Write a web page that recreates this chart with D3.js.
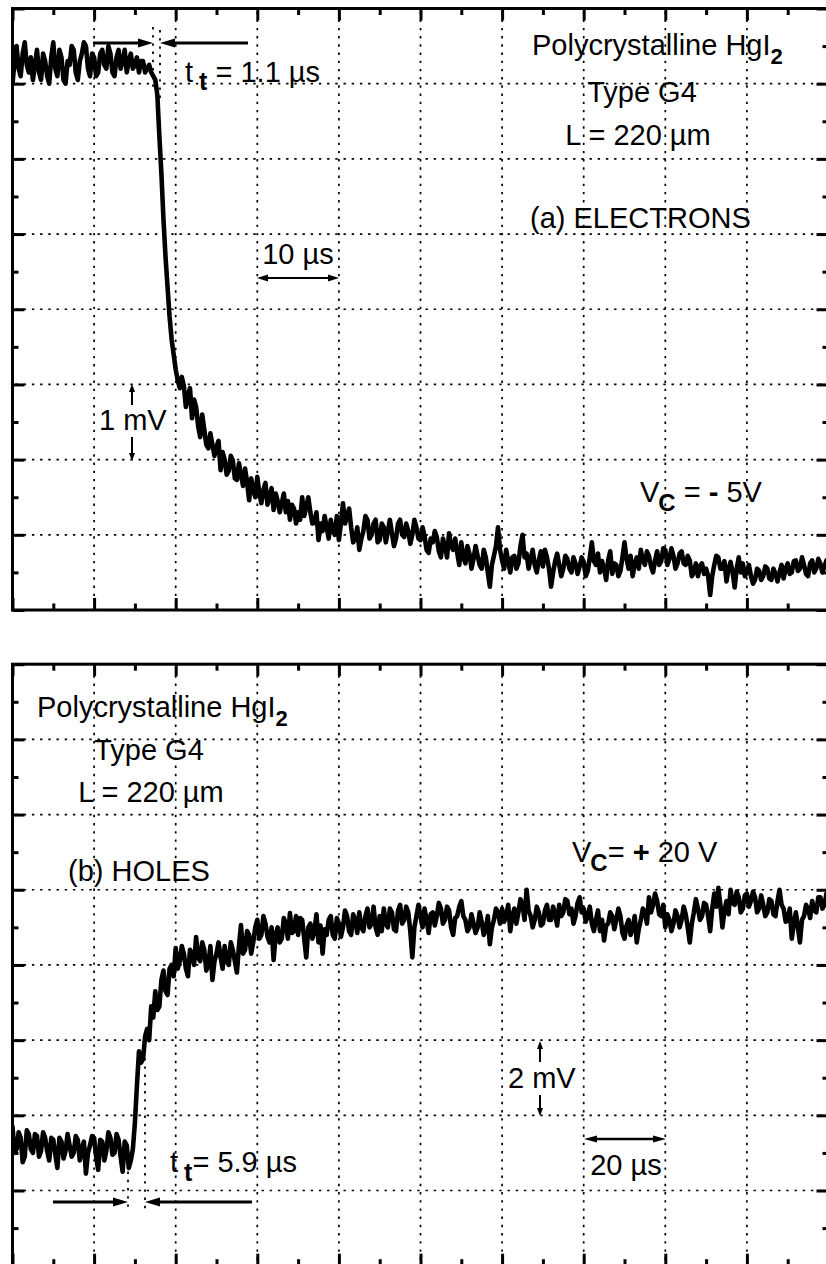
<!DOCTYPE html>
<html><head><meta charset="utf-8">
<script src="https://cdn.jsdelivr.net/npm/d3@7"></script>
<style>
html,body{margin:0;padding:0;background:#fff;}
svg{display:block;}
text{font-family:"Liberation Sans",Arial,Helvetica,sans-serif;fill:#000;}
</style></head><body>
<svg id="chart" width="826" height="1264"></svg>
<script>
// ---------------- DATA ----------------
// (a) electrons: oscilloscope samples, one every 0.25 µs, in mV
const electronStepUs = 0.25;
const electronSignal = [
 7.00,7.30,7.50,7.20,7.10,7.40,7.55,7.25,7.15,7.35,7.05,7.25,7.45,7.15,7.05,7.40,7.30,7.10,7.00,7.35,
 7.55,7.20,7.10,7.45,7.35,7.05,7.00,7.30,7.25,7.50,7.45,7.15,7.05,7.30,7.40,7.55,7.50,7.20,7.10,7.40,
 7.35,7.10,7.15,7.40,7.45,7.25,7.20,7.50,7.40,7.15,7.10,7.35,7.45,7.20,7.30,7.45,7.15,7.30,7.40,7.20,
 7.25,7.35,7.15,7.30,7.30,7.15,7.20,7.25,7.15,7.10,7.05,6.85,6.30,5.80,5.20,4.70,4.30,3.90,3.60,3.40,
 3.20,3.05,2.95,3.10,2.98,2.70,2.85,2.95,2.55,2.80,2.70,2.45,2.30,2.60,2.40,2.20,2.15,2.35,2.20,2.05,
 2.17,2.25,1.86,2.10,2.00,1.80,1.85,2.05,1.99,1.75,1.73,1.95,1.80,1.65,1.88,1.70,1.46,1.75,1.60,1.50,
 1.77,1.55,1.42,1.60,1.69,1.40,1.50,1.62,1.33,1.55,1.45,1.30,1.42,1.55,1.30,1.45,1.20,1.40,1.35,1.15,
 1.30,1.20,1.50,1.25,1.37,1.50,1.30,1.15,1.16,1.30,0.93,1.15,1.05,1.25,1.10,0.95,1.20,1.05,1.00,1.25,
 0.93,1.15,1.42,1.15,1.25,1.35,1.10,0.90,0.95,1.10,0.80,0.95,1.05,1.25,1.20,0.95,1.00,1.15,1.20,0.90,
 0.93,1.15,1.10,0.90,1.05,1.20,1.02,0.85,0.95,1.15,1.20,1.00,0.97,1.15,1.05,0.88,1.00,1.20,1.10,0.95,
 0.93,1.10,0.98,0.80,0.76,0.95,0.90,1.05,0.97,0.78,0.70,0.95,0.85,0.70,1.02,0.85,0.80,0.95,0.76,0.60,
 0.90,0.70,0.62,0.85,0.75,0.55,0.68,0.85,0.72,0.60,0.55,0.80,0.70,0.50,0.31,0.60,0.72,0.85,1.10,0.80,
 0.66,0.55,0.80,0.65,0.50,0.70,0.72,0.55,0.62,0.85,1.00,0.70,0.75,0.55,0.68,0.80,0.60,0.50,0.66,0.78,
 0.58,0.80,0.70,0.55,0.31,0.50,0.65,0.75,0.60,0.45,0.55,0.72,0.68,0.55,0.50,0.70,0.62,0.48,0.58,0.70,
 0.64,0.45,0.52,0.70,0.90,0.65,0.60,0.75,0.50,0.65,0.55,0.40,0.66,0.78,0.48,0.62,0.60,0.45,0.52,0.70,
 0.90,0.68,0.55,0.72,0.45,0.62,0.70,0.55,0.80,0.66,0.60,0.78,0.72,0.58,0.50,0.66,0.78,0.60,0.65,0.82,
 0.80,0.60,0.68,0.82,0.72,0.55,0.62,0.75,0.78,0.62,0.60,0.72,0.66,0.45,0.50,0.62,0.45,0.58,0.62,0.48,
 0.55,0.45,0.20,0.45,0.60,0.72,0.70,0.55,0.55,0.65,0.38,0.55,0.64,0.50,0.30,0.55,0.70,0.50,0.62,0.45,
 0.50,0.60,0.45,0.35,0.40,0.55,0.52,0.40,0.45,0.58,0.55,0.42,0.40,0.55,0.48,0.38,0.50,0.60,0.42,0.55,
 0.62,0.48,0.50,0.65,0.66,0.52,0.55,0.70,0.60,0.48,0.45,0.62,0.66,0.50,0.55,0.68,0.62,0.50,0.58,0.66,
 0.60
];
// (b) holes: oscilloscope samples, one every 0.5 µs, in mV
const holeStepUs = 0.5;
const holeSignal = [
 3.70,3.00,3.10,3.55,3.40,2.75,2.90,3.60,3.50,3.10,3.00,3.50,3.45,2.90,3.05,3.55,3.40,3.05,2.80,3.40,
 3.35,2.95,2.60,3.40,3.30,2.85,3.05,3.50,3.20,2.90,3.00,3.45,3.35,2.80,3.10,3.30,2.45,3.00,3.20,3.45,
 3.40,2.90,2.55,3.35,3.30,2.80,3.05,3.55,3.40,2.95,3.00,3.50,3.35,2.90,2.50,3.30,3.20,2.60,2.80,3.10,
 3.80,4.80,5.70,5.40,5.50,6.10,6.30,6.00,6.90,6.60,7.30,6.80,6.90,7.60,7.85,7.30,7.20,7.90,8.00,7.70,
 8.45,7.90,8.10,8.50,8.30,7.90,7.70,8.40,8.30,8.00,8.74,8.20,8.10,8.60,8.40,7.85,8.00,8.50,7.60,8.10,
 8.30,8.60,8.20,7.90,8.50,8.10,8.00,8.60,8.40,8.10,7.80,8.50,9.06,8.30,8.40,8.90,8.80,8.30,8.60,9.00,
 9.20,8.70,8.80,9.30,9.10,8.75,8.60,9.00,8.13,8.80,9.00,8.60,8.70,9.25,9.10,8.70,9.38,8.85,8.90,9.30,
 8.80,9.25,9.20,8.70,8.20,9.00,9.10,8.70,8.90,9.35,8.60,9.05,8.30,8.95,8.80,9.20,9.30,8.80,8.70,9.25,
 9.10,8.75,9.00,9.45,9.30,8.90,8.80,9.35,9.20,8.85,9.40,9.00,8.90,9.30,9.50,9.00,9.10,9.55,9.00,8.80,
 9.30,8.90,9.50,9.10,9.00,9.50,9.40,8.95,8.90,9.45,9.60,9.10,9.20,9.55,9.40,8.90,8.20,9.00,9.30,9.60,
 9.30,9.00,9.50,9.20,8.85,9.35,9.40,9.05,9.30,9.65,9.50,9.10,9.20,9.55,9.45,9.00,8.80,9.25,9.30,9.55,
 9.70,9.30,9.20,8.90,9.00,9.35,9.10,8.85,9.00,9.40,9.15,8.80,8.95,9.30,8.55,9.00,9.20,9.50,9.40,9.10,
 9.50,9.15,9.30,9.60,8.90,9.30,9.50,9.10,9.40,9.75,9.60,9.20,10.00,9.45,9.30,9.00,9.20,9.55,9.40,9.05,
 9.10,9.45,9.60,9.20,9.20,9.55,9.35,9.05,9.60,9.30,9.40,9.75,9.70,9.35,9.50,9.10,9.30,9.65,9.80,9.40,
 9.50,9.15,9.30,9.55,9.10,8.90,9.20,9.45,8.90,9.20,8.65,9.05,9.10,9.40,9.30,8.95,9.20,9.50,9.30,8.85,
 8.70,9.05,9.20,8.80,9.00,9.30,8.60,8.95,9.20,9.50,9.40,9.10,9.80,9.40,9.60,9.90,9.70,9.35,9.30,9.60,
 9.00,9.35,9.20,8.90,9.10,9.45,9.30,9.00,9.20,9.55,9.35,9.00,8.60,9.10,9.40,9.75,9.50,9.20,9.30,9.65,
 9.60,9.30,8.90,9.50,9.90,9.55,10.05,9.60,9.00,9.45,9.70,9.35,10.00,9.65,9.60,9.95,9.80,9.40,9.50,9.85,
 9.90,9.55,9.70,9.95,9.80,9.40,9.50,9.85,9.60,9.30,9.40,9.75,9.70,9.35,9.30,9.70,10.00,9.60,9.50,9.15,
 9.20,9.50,8.70,9.10,9.40,9.00,8.60,9.20,9.30,9.60,9.50,9.25,9.70,9.45,9.40,9.80,9.80,9.50,9.60,9.90,
 9.70
];
// axis tick values (no tick labels on this oscilloscope chart)
const electronTimeMajor = [0,10,20,30,40,50,60,70,80,90,100];
const electronTimeMinor = [5,15,25,35,45,55,65,75,85,95];
const electronVoltMajor = [0,1,2,3,4,5,6,7,8];
const electronVoltMinor = [0.5,1.5,2.5,3.5,4.5,5.5,6.5,7.5];
const holeTimeMajor = [0,20,40,60,80,100,120,140,160,180,200];
const holeTimeMinor = [10,30,50,70,90,110,130,150,170,190];
const holeVoltMajor = [0,2,4,6,8,10,12,14,16];
const holeVoltMinor = [1,3,5,7,9,11,13,15];

// ---------------- LAYOUT ----------------
const svg = d3.select("#chart");
svg.append("rect").attr("width",826).attr("height",1264).attr("fill","#fff");
const L = 12.5, R = 828.5;
const panels = [
  {id:"a", top:8.5, bottom:610, tMax:100, vMax:8, step:electronStepUs, sig:electronSignal,
   xMaj:electronTimeMajor, xMin:electronTimeMinor, yMaj:electronVoltMajor, yMin:electronVoltMinor},
  {id:"b", top:664.2, bottom:1265.7, tMax:200, vMax:16, step:holeStepUs, sig:holeSignal,
   xMaj:holeTimeMajor, xMin:holeTimeMinor, yMaj:holeVoltMajor, yMin:holeVoltMinor}
];

function drawPanel(p){
  const x = d3.scaleLinear().domain([0,p.tMax]).range([L,R]);
  const y = d3.scaleLinear().domain([0,p.vMax]).range([p.bottom,p.top]);
  const g = svg.append("g");
  // grid
  const grid = g.append("g").attr("stroke","#000").attr("stroke-width",1.7).attr("stroke-dasharray","2.4,5.8");
  p.xMaj.slice(1,-1).forEach(t=>grid.append("line").attr("x1",x(t)).attr("x2",x(t)).attr("y1",p.top+3).attr("y2",p.bottom));
  p.yMaj.slice(1,-1).forEach(v=>grid.append("line").attr("y1",y(v)).attr("y2",y(v)).attr("x1",L+3).attr("x2",R));
  // ticks
  function ax(axisFn, scale, vals, size, tr){
    const a = g.append("g").attr("transform",tr)
      .call(axisFn(scale).tickValues(vals).tickSize(size).tickSizeOuter(0).tickFormat(""));
    a.select(".domain").remove();
    a.selectAll("line").attr("stroke","#000").attr("stroke-width",3);
  }
  ax(d3.axisBottom, x, p.xMaj, 12, `translate(0,${p.top})`);
  ax(d3.axisBottom, x, p.xMin, 6.5, `translate(0,${p.top})`);
  ax(d3.axisTop, x, p.xMaj, 12, `translate(0,${p.bottom})`);
  ax(d3.axisTop, x, p.xMin, 6.5, `translate(0,${p.bottom})`);
  ax(d3.axisRight, y, p.yMaj, 12, `translate(${L},0)`);
  ax(d3.axisRight, y, p.yMin, 6, `translate(${L},0)`);
  ax(d3.axisLeft, y, p.yMaj, 12, `translate(${R},0)`);
  ax(d3.axisLeft, y, p.yMin, 6, `translate(${R},0)`);
  // frame
  g.append("rect").attr("x",L).attr("y",p.top).attr("width",R-L).attr("height",p.bottom-p.top)
    .attr("fill","none").attr("stroke","#000").attr("stroke-width",3);
  // trace
  const clipId = "clip"+p.id;
  svg.append("clipPath").attr("id",clipId).append("rect")
    .attr("x",L).attr("y",p.top).attr("width",R-L).attr("height",p.bottom-p.top);
  const line = d3.line().x((d,i)=>x(i*p.step)).y(d=>y(d));
  g.append("path").attr("clip-path",`url(#${clipId})`).attr("d",line(p.sig))
    .attr("fill","none").attr("stroke","#000").attr("stroke-width",4.6)
    .attr("stroke-linejoin","round").attr("stroke-linecap","round");
  return g;
}
const gA = drawPanel(panels[0]);
const gB = drawPanel(panels[1]);

// ---------------- ANNOTATIONS ----------------
const ann = svg.append("g");
function arrow(x1,y1,x2,y2,w,hl,hw){ // from (x1,y1) to tip (x2,y2)
  const dx=x2-x1, dy=y2-y1, len=Math.hypot(dx,dy), ux=dx/len, uy=dy/len;
  const bx=x2-ux*hl, by=y2-uy*hl;
  ann.append("line").attr("x1",x1).attr("y1",y1).attr("x2",bx+ux*1).attr("y2",by+uy*1)
    .attr("stroke","#000").attr("stroke-width",w);
  ann.append("path").attr("d",`M${x2},${y2}L${bx-uy*hw/2},${by+ux*hw/2}L${bx+uy*hw/2},${by-ux*hw/2}Z`).attr("fill","#000");
}
function dbl(x1,y,x2,w,hl,hw){
  const m=(x1+x2)/2; arrow(m,y,x1,y,w,hl,hw); arrow(m,y,x2,y,w,hl,hw);
}
function dotted(x,y1,y2){
  ann.append("line").attr("x1",x).attr("x2",x).attr("y1",y1).attr("y2",y2)
    .attr("stroke","#000").attr("stroke-width",1.8).attr("stroke-dasharray","2.4,5.8");
}
function txt(x,y,anchor,parts){
  const t = ann.append("text").attr("x",x).attr("y",y).attr("text-anchor",anchor).attr("font-size",29);
  parts.forEach(p=>{
    const s=t.append("tspan").text(p.s);
    if(p.dy) s.attr("dy",p.dy);
    if(p.dx) s.attr("dx",p.dx);
    if(p.b) s.attr("font-weight","bold");
    if(p.fs) s.attr("font-size",p.fs);
  });
}
// panel (a)
txt(532,55,"start",[{s:"Polycrystalline HgI"},{s:"2",b:1,fs:22,dy:9}]);
txt(642,102,"middle",[{s:"Type G4"}]);
txt(638,145,"middle",[{s:"L = 220 \u00b5m"}]);
txt(530,228,"start",[{s:"(a) ELECTRONS"}]);
txt(298,264,"middle",[{s:"10 \u00b5s"}]);
dbl(257,278,339,2,11,7);
txt(99,430,"start",[{s:"1 mV"}]);
arrow(132,405,132,384,2,8,6);
arrow(132,437,132,461,2,8,6);
txt(640,502,"start",[{s:"V"},{s:"C",b:1,fs:24,dy:9,dx:-1},{s:" = ",dy:-9},{s:"-",b:1},{s:" 5V"}]);
dotted(153,27,90);
dotted(160,30,98);
arrow(93,43,153,43,3,15,9);
arrow(248,43,160,43,3,15,9);
txt(185,82,"start",[{s:"t"},{s:"t",b:1,fs:25,dx:6,dy:8},{s:" = 1.1 \u00b5s",dy:-8}]);
// panel (b)
txt(37,717,"start",[{s:"Polycrystalline HgI"},{s:"2",b:1,fs:22,dy:9}]);
txt(149,760,"middle",[{s:"Type G4"}]);
txt(151,802,"middle",[{s:"L = 220 \u00b5m"}]);
txt(68,881,"start",[{s:"(b) HOLES"}]);
txt(572,862,"start",[{s:"V"},{s:"C",b:1,fs:24,dy:9,dx:-1},{s:"= ",dy:-9},{s:"+",b:1},{s:" 20 V"}]);
txt(508,1088,"start",[{s:"2 mV"}]);
arrow(540,1062,540,1041,2,8,6);
arrow(540,1095,540,1116,2,8,6);
dbl(584,1139,666,2.5,13,7);
txt(626,1175,"middle",[{s:"20 \u00b5s"}]);
dotted(128,1147,1210);
dotted(145,1050,1210);
arrow(53,1202,128,1202,3,15,9);
arrow(252,1202,145,1202,3,15,9);
txt(170,1172,"start",[{s:"t"},{s:"t",b:1,fs:25,dx:6,dy:9},{s:"= 5.9 \u00b5s",dy:-9}]);
</script>
</body></html>
